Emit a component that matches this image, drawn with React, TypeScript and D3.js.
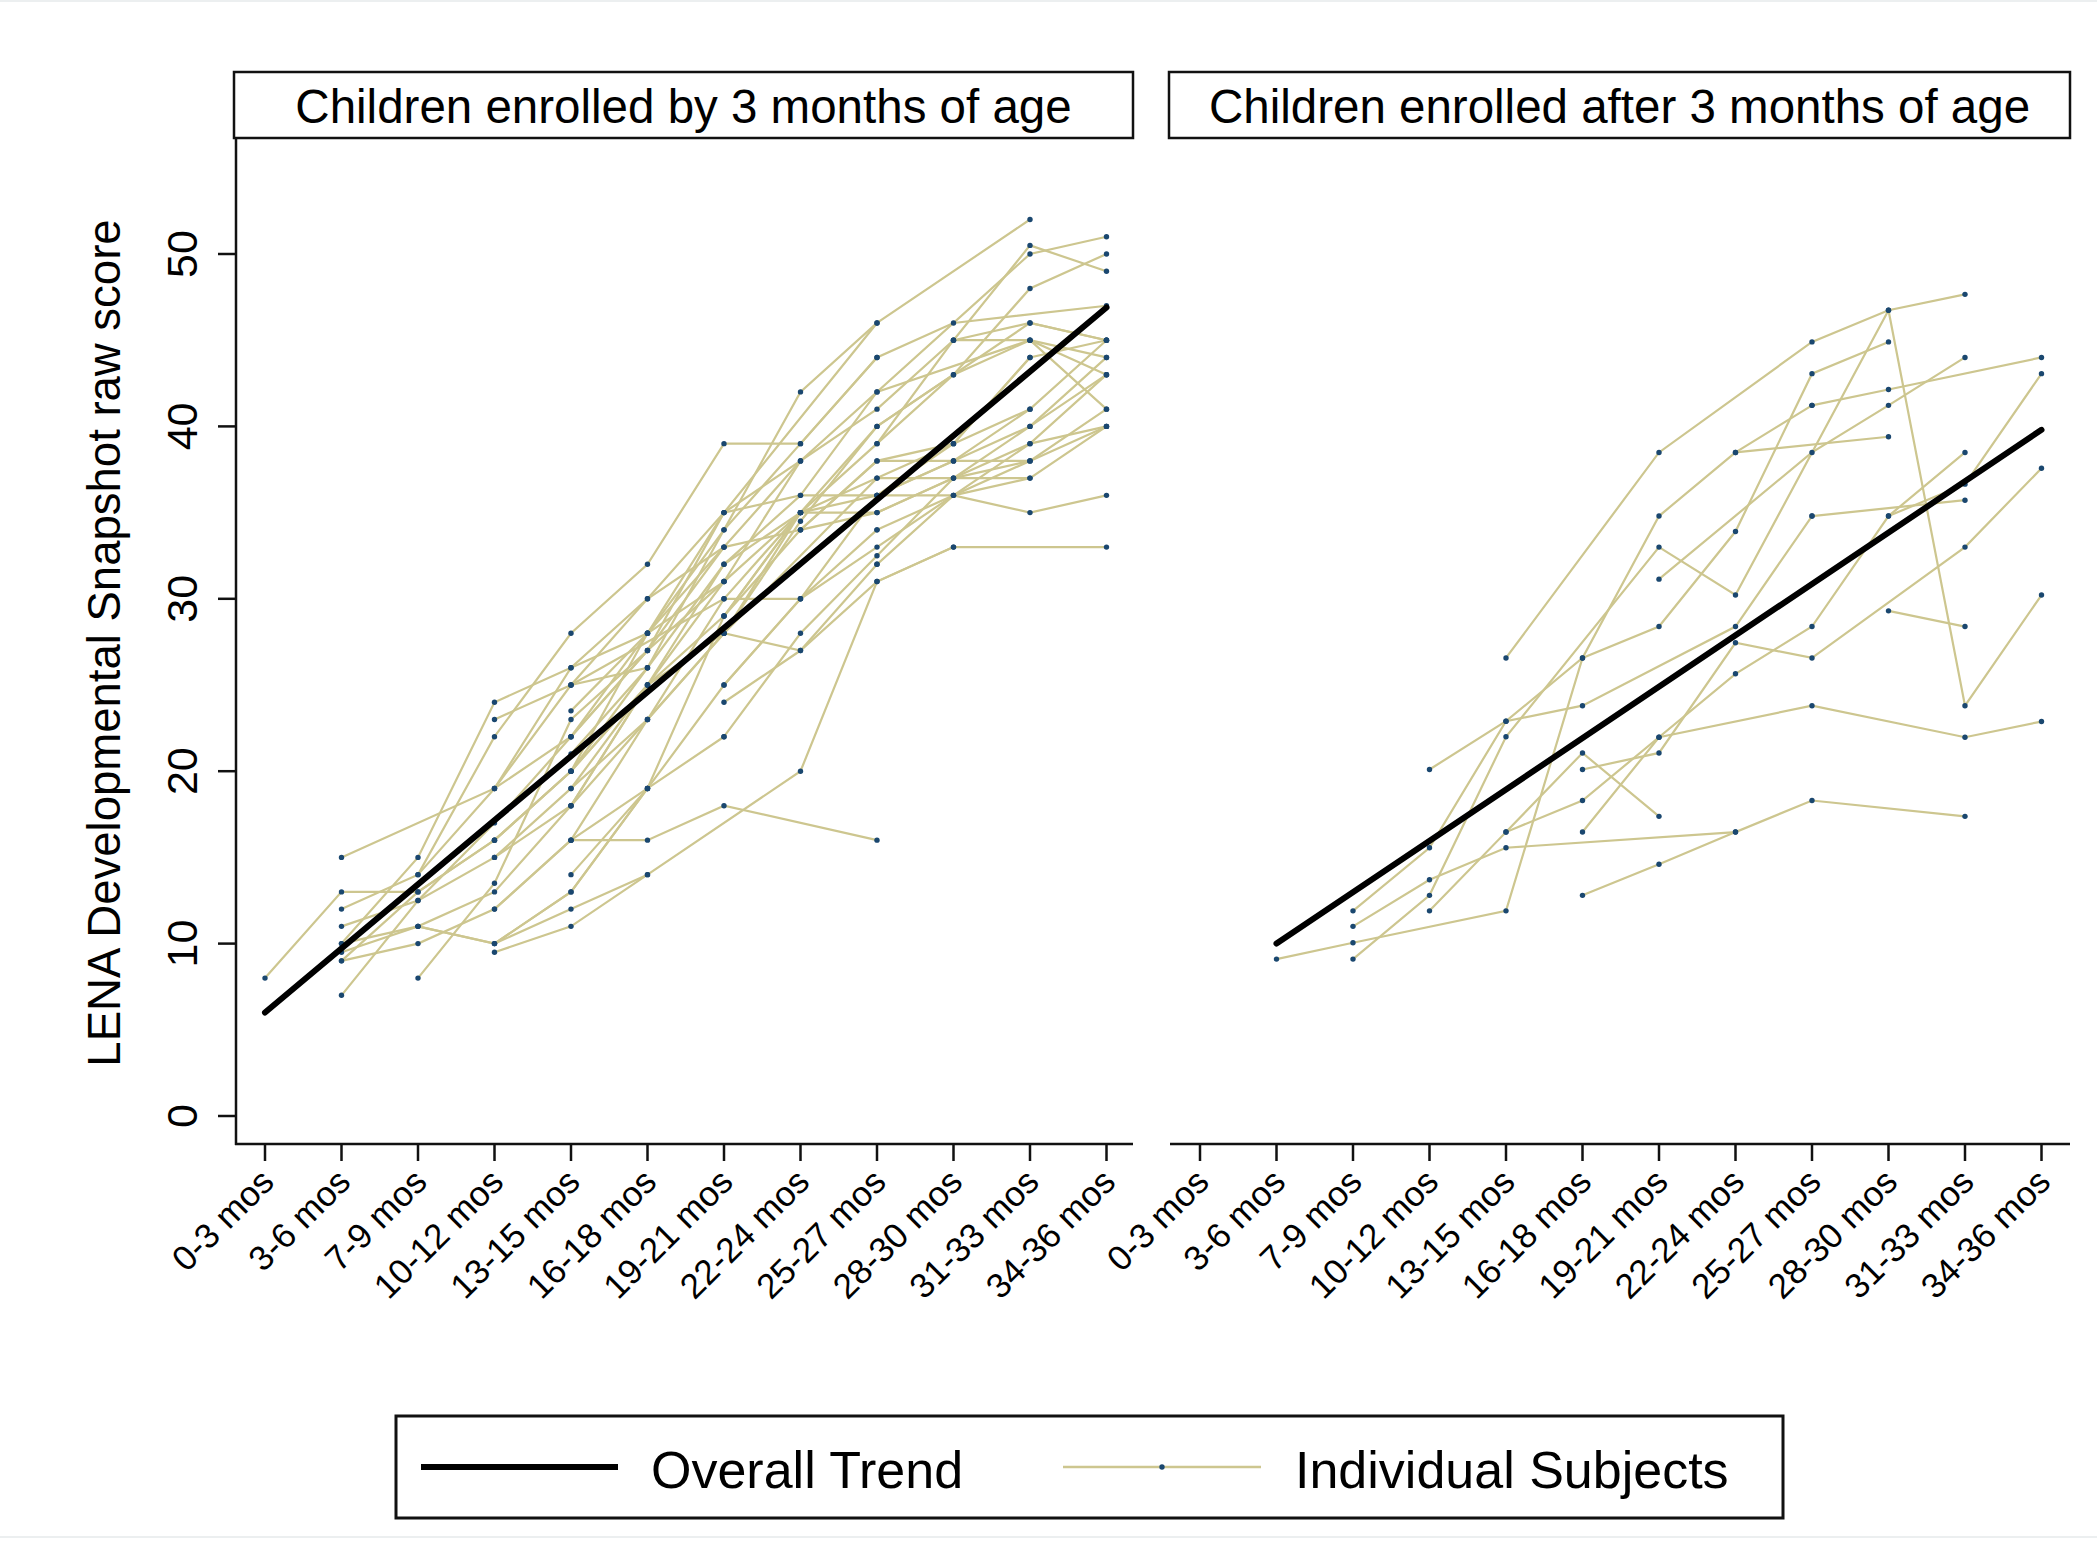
import React from "react";
import * as d3 from "d3";

// age bins on the x axis
const ageBins = [
  "0-3 mos", "3-6 mos", "7-9 mos", "10-12 mos", "13-15 mos", "16-18 mos",
  "19-21 mos", "22-24 mos", "25-27 mos", "28-30 mos", "31-33 mos", "34-36 mos",
];
const yTicks = [0, 10, 20, 30, 40, 50];
const panelTitles = [
  "Children enrolled by 3 months of age",
  "Children enrolled after 3 months of age",
];
const yTitle = "LENA Developmental Snapshot raw score";
const legendLabels = ["Overall Trend", "Individual Subjects"];

// [bin index, raw score]
type Obs = [number, number];

const earlyTrend: Obs[] = [[0, 6], [11, 46.9]];
const lateTrend: Obs[] = [[1, 10], [11, 39.8]];

const earlySubjects: Obs[][] = [
  [[0, 8], [1, 13], [2, 13], [3, 16], [4, 20], [5, 26]],
  [[1, 15], [3, 19], [4, 26], [5, 30], [6, 35], [7, 38]],
  [[1, 12], [2, 14], [3, 22], [4, 28], [5, 32], [6, 39], [7, 39], [8, 44], [9, 46], [11, 47]],
  [[1, 11], [2, 12.5], [3, 17], [4, 22], [5, 27], [6, 33]],
  [[1, 10], [2, 15], [3, 24], [4, 26], [5, 28], [6, 34], [7, 42], [8, 46], [10, 52]],
  [[1, 10], [2, 11], [3, 13], [4, 18], [5, 23], [6, 30], [7, 35]],
  [[1, 9.5], [2, 11], [3, 10], [4, 12], [5, 14]],
  [[1, 9], [2, 10], [3, 12], [4, 16], [5, 16], [6, 18], [8, 16]],
  [[1, 9], [2, 13], [3, 16], [4, 20], [5, 25], [6, 28], [7, 34.5], [8, 40], [9, 43], [10, 48], [11, 50]],
  [[1, 7], [2, 12.5], [3, 15], [4, 19], [5, 25], [6, 31]],
  [[2, 8], [3, 13.5], [4, 23], [5, 27], [6, 31], [7, 35], [8, 37], [9, 39], [10, 41]],
  [[2, 14], [3, 19], [4, 25], [5, 26], [6, 32], [7, 36], [8, 36], [9, 36], [10, 35], [11, 36]],
  [[3, 23], [4, 25], [5, 30], [6, 33], [7, 34], [8, 38], [9, 38], [10, 40], [11, 43]],
  [[3, 9.5], [4, 11], [5, 14], [7, 20], [8, 31], [9, 33], [11, 33]],
  [[3, 10], [4, 13], [5, 19], [6, 25], [7, 30], [8, 34]],
  [[3, 15], [4, 18], [5, 25], [6, 29], [7, 35], [8, 39], [9, 45], [10, 45], [11, 41]],
  [[4, 20], [5, 28], [6, 33], [7, 38], [8, 41], [9, 45], [10, 50.5], [11, 49]],
  [[4, 22], [5, 27], [6, 35], [7, 36], [8, 42], [10, 50], [11, 51]],
  [[4, 16], [5, 23], [6, 28], [7, 27], [8, 32]],
  [[4, 14], [5, 19], [6, 29], [7, 34], [8, 35], [9, 37], [10, 39], [11, 40]],
  [[4, 18], [5, 25], [6, 32], [7, 35], [8, 40], [10, 46], [11, 45]],
  [[4, 23.5], [5, 28], [6, 31], [7, 38], [8, 42], [10, 45], [11, 44]],
  [[4, 21], [5, 26], [6, 34], [7, 39], [8, 44]],
  [[4, 25], [6, 30], [7, 30], [8, 36], [9, 39], [10, 44]],
  [[4, 19], [5, 23], [6, 28], [8, 37], [10, 37], [11, 40]],
  [[3, 19], [4, 22], [5, 28], [6, 35], [8, 46]],
  [[6, 29], [7, 35], [8, 35], [9, 37], [10, 38], [11, 41]],
  [[6, 25], [7, 30], [8, 33], [9, 36], [10, 39], [11, 43]],
  [[6, 22], [7, 28], [8, 32.5], [9, 37], [10, 40], [11, 44]],
  [[7, 34], [8, 38], [9, 39], [10, 44], [11, 45]],
  [[8, 39], [9, 43], [10, 45], [11, 43]],
  [[6, 24], [7, 27], [8, 31], [9, 33]],
  [[3, 12], [4, 16], [5, 19], [6, 22]],
  [[2, 11], [3, 10], [4, 13], [5, 19]],
  [[3, 16], [4, 20], [5, 25]],
  [[8, 36], [9, 38], [10, 41], [11, 45]],
  [[8, 34], [10, 38], [11, 40]],
  [[9, 45], [10, 46], [11, 45]],
  [[6, 28], [7, 35], [8, 36], [9, 38], [10, 38]],
  [[8, 32], [9, 36], [10, 37]],
];

const lateSubjects: Obs[][] = [
  [[1, 9.1], [2, 10.05], [4, 11.9], [5, 26.57], [6, 34.8], [7, 38.49], [9, 39.4]],
  [[2, 9.1], [3, 12.8], [4, 22.0], [6, 33.0], [7, 30.22], [9, 46.74], [10, 23.8], [11, 30.22]],
  [[2, 11.9], [3, 15.56], [4, 22.9], [5, 23.8], [7, 28.39], [8, 34.8]],
  [[2, 11], [3, 13.7], [4, 15.56], [7, 16.47], [8, 18.3], [10, 17.38]],
  [[3, 20.1], [4, 22.9], [5, 26.57], [6, 28.39], [7, 33.9], [8, 43.06], [9, 44.9]],
  [[3, 11.9], [4, 16.47], [5, 18.3], [6, 21.97], [8, 23.8], [10, 21.97], [11, 22.88]],
  [[4, 26.57], [6, 38.49], [8, 44.9], [9, 46.74], [10, 47.66]],
  [[4, 16.47], [5, 21.06], [6, 17.38]],
  [[5, 16.47], [6, 21.97], [7, 25.65], [8, 28.39], [9, 34.8], [10, 38.49]],
  [[5, 12.8], [6, 14.6], [7, 16.47]],
  [[5, 20.1], [6, 21.06], [7, 27.45], [8, 26.57], [10, 33.0], [11, 37.57]],
  [[6, 31.14], [8, 38.49], [9, 41.22], [10, 44.0]],
  [[8, 41.22], [9, 42.14], [11, 44.0]],
  [[9, 29.3], [10, 28.39]],
  [[7, 38.49], [8, 41.22]],
  [[9, 34.8], [10, 36.65], [11, 43.06]],
  [[8, 34.8], [10, 35.72]],
];

const W = 2097;
const H = 1556;
const FONT = "'Liberation Sans', Arial, Helvetica, sans-serif";
const subjectColor = "#cdc68f";
const dotColor = "#1a476f";

const axisY = 1144;
const boxTop = 72;
const boxBottom = 138;

const panels = [
  { title: panelTitles[0], box: [234, 1133], axis: [236, 1133], range: [265, 1106.5], subjects: earlySubjects, trend: earlyTrend, yAxis: true },
  { title: panelTitles[1], box: [1169, 2070], axis: [1171, 2070], range: [1200, 2041.5], subjects: lateSubjects, trend: lateTrend, yAxis: false },
];

const y = d3.scaleLinear().domain([0, 50]).range([1116, 254]);

function Panel({ p }: { p: (typeof panels)[number] }) {
  const x = d3.scalePoint<string>().domain(ageBins).range(p.range as [number, number]);
  const line = d3
    .line<Obs>()
    .x((d) => x(ageBins[d[0]])!)
    .y((d) => y(d[1]));

  return (
    <g>
      <rect x={p.box[0]} y={boxTop} width={p.box[1] - p.box[0]} height={boxBottom - boxTop} fill="white" stroke="#111" strokeWidth={2.5} />
      <text x={(p.box[0] + p.box[1]) / 2} y={(boxTop + boxBottom) / 2 + 1} textAnchor="middle" dominantBaseline="central" fontSize={47.5} fontFamily={FONT}>
        {p.title}
      </text>

      {p.yAxis && (
        <g>
          <line x1={p.axis[0]} x2={p.axis[0]} y1={boxBottom} y2={axisY + 1} stroke="#111" strokeWidth={2.5} />
          {yTicks.map((t) => (
            <g key={t}>
              <line x1={p.axis[0] - 18} x2={p.axis[0]} y1={y(t)} y2={y(t)} stroke="#111" strokeWidth={2.5} />
              <text transform={`translate(182,${y(t)}) rotate(-90)`} textAnchor="middle" dominantBaseline="central" fontSize={43} fontFamily={FONT}>
                {t}
              </text>
            </g>
          ))}
        </g>
      )}

      <line x1={p.axis[0] - 1} x2={p.axis[1]} y1={axisY} y2={axisY} stroke="#111" strokeWidth={2.5} />
      {ageBins.map((b) => (
        <g key={b}>
          <line x1={x(b)} x2={x(b)} y1={axisY} y2={axisY + 17} stroke="#111" strokeWidth={2.5} />
          <text transform={`translate(${x(b)! + 2},${axisY + 31}) rotate(-45)`} textAnchor="end" dominantBaseline="central" fontSize={35} fontFamily={FONT}>
            {b}
          </text>
        </g>
      ))}

      {p.subjects.map((s, i) => (
        <path key={i} d={line(s)!} fill="none" stroke={subjectColor} strokeWidth={2.2} />
      ))}
      {p.subjects.map((s, i) =>
        s.map((d, j) => <circle key={`${i}-${j}`} cx={x(ageBins[d[0]])} cy={y(d[1])} r={2.7} fill={dotColor} />)
      )}
      <path d={line(p.trend)!} fill="none" stroke="#000" strokeWidth={6} strokeLinecap="round" />
    </g>
  );
}

export default function App() {
  return (
    <svg width={W} height={H} style={{ position: "absolute", left: 0, top: 0, display: "block", background: "white" }}>
      <rect width={W} height={H} fill="white" />
      <line x1={0} x2={W} y1={1} y2={1} stroke="#eceff0" strokeWidth={2} />
      <line x1={0} x2={W} y1={1537} y2={1537} stroke="#eceff0" strokeWidth={2} />

      <text transform="translate(104,643) rotate(-90)" textAnchor="middle" dominantBaseline="central" fontSize={45.5} fontFamily={FONT}>
        {yTitle}
      </text>

      {panels.map((p, i) => (
        <Panel key={i} p={p} />
      ))}

      <g>
        <rect x={396} y={1416} width={1387} height={102} fill="white" stroke="#111" strokeWidth={3} />
        <line x1={421} x2={618} y1={1467} y2={1467} stroke="#000" strokeWidth={6} />
        <text x={651} y={1470} dominantBaseline="central" fontSize={52} fontFamily={FONT}>
          {legendLabels[0]}
        </text>
        <line x1={1063} x2={1261} y1={1467} y2={1467} stroke={subjectColor} strokeWidth={2.5} />
        <circle cx={1162} cy={1467} r={2.7} fill={dotColor} />
        <text x={1295} y={1470} dominantBaseline="central" fontSize={52} fontFamily={FONT}>
          {legendLabels[1]}
        </text>
      </g>
    </svg>
  );
}
